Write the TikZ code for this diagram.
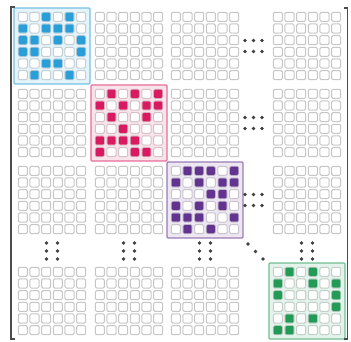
\documentclass[tikz,border=0pt]{standalone}
\definecolor{colblue}{HTML}{2A9ED8}
\definecolor{colmag}{HTML}{D81B60}
\definecolor{colpur}{HTML}{63348F}
\definecolor{colgrn}{HTML}{239B56}
\tikzset{
  cellbox/.style={draw=gray!45, line width=1pt, fill=white, rounded corners=1.3pt},
  hlbox/.style={line width=1.3pt, rounded corners=1pt},
  dotmark/.style={fill=black!75},
  bracketline/.style={draw=black!70, line width=1.8pt},
}
\newcommand\cs{11.667}
\newcommand\cellgrid[2]{%
  \foreach \i in {0,...,5}{\foreach \j in {0,...,5}{
    \draw[cellbox] ({#1+\i*\cs+1.3},{#2+\j*\cs+1.3}) rectangle ({#1+(\i+1)*\cs-1.3},{#2+(\j+1)*\cs-1.3});
  }}}
\newcommand\hlgrid[4]{%
  \fill[#3!12] ({#1-3},{#2-3}) rectangle ({#1+73},{#2+73});
  \foreach \i in {0,...,5}{\foreach \j in {0,...,5}{
    \draw[cellbox, draw=#3!25!gray!40] ({#1+\i*\cs+1.3},{#2+\j*\cs+1.3}) rectangle ({#1+(\i+1)*\cs-1.3},{#2+(\j+1)*\cs-1.3});
  }}
  \foreach \r/\c in {#4}{
    \fill[#3, rounded corners=1.3pt] ({#1+(\c-1)*\cs+1.6},{#2+(\r-1)*\cs+1.6}) rectangle ({#1+\c*\cs-1.6},{#2+\r*\cs-1.6});
  }
  \draw[hlbox, draw=#3!65] ({#1-3},{#2-3}) rectangle ({#1+73},{#2+73});
}
\begin{document}
\begin{tikzpicture}[x=1pt,y=-1pt]
\useasboundingbox (0,0) rectangle (351,342);
% grey blocks
\foreach \x in {17,94,170,272}{
  \foreach \y in {11,88,165,266}{
    \cellgrid{\x}{\y}
  }}
% highlighted diagonal blocks
\hlgrid{17}{11}{colblue}{1/3,1/5,2/1,2/3,2/4,2/5,3/1,3/2,3/4,3/6,4/1,4/2,4/6,5/3,5/4,6/2,6/5}
\hlgrid{94}{88}{colmag}{1/2,1/4,1/6,2/1,2/3,2/5,2/6,3/2,3/5,4/3,5/1,5/2,5/3,5/4,6/1,6/4,6/5}
\hlgrid{170}{165}{colpur}{1/2,1/3,1/4,1/6,2/1,2/3,2/5,2/6,3/4,3/5,4/1,4/3,4/5,5/1,5/2,5/3,5/6,6/2,6/4}
\hlgrid{272}{266}{colgrn}{1/2,1/4,2/1,2/4,2/6,3/1,3/6,4/6,5/2,5/4,6/1,6/2}
% horizontal dots
\foreach \yc in {46,123,200}{
  \foreach \xd in {245,253.5,262}{
    \fill[dotmark] (\xd,\yc-5.5) circle (1.9);
    \fill[dotmark] (\xd,\yc+5.5) circle (1.9);
  }}
% vertical dots
\foreach \xc in {52,129,205,307}{
  \foreach \yd in {243,251,259}{
    \fill[dotmark] (\xc-5.5,\yd) circle (1.9);
    \fill[dotmark] (\xc+5.5,\yd) circle (1.9);
  }}
% diagonal dots
\fill[dotmark] (248,244) circle (1.9);
\fill[dotmark] (255.5,251.5) circle (1.9);
\fill[dotmark] (263,259) circle (1.9);
% brackets
\draw[bracketline] (14.5,7) -- (11,7) -- (11,339) -- (14.5,339);
\draw[bracketline] (344,8) -- (347.5,8) -- (347.5,339) -- (344,339);
\end{tikzpicture}
\end{document}
